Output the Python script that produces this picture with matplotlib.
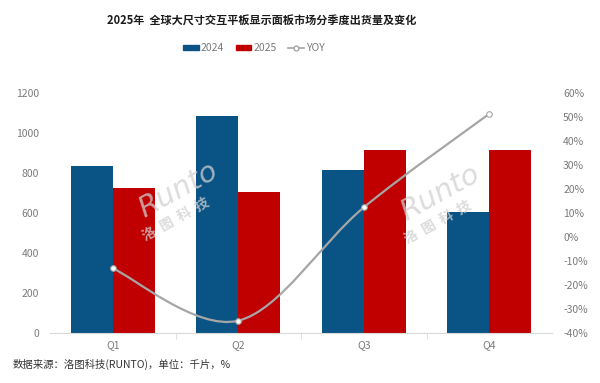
import numpy as np
import matplotlib.pyplot as plt
from matplotlib.path import Path
from matplotlib.patches import PathPatch
from matplotlib.lines import Line2D
from matplotlib.patches import Patch

plt.rcParams['font.family'] = ['Noto Sans CJK SC', 'DejaVu Sans']

quarters = ['Q1', 'Q2', 'Q3', 'Q4']
ship_2024 = [835, 1085, 813, 603]
ship_2025 = [725, 705, 912, 912]
yoy = [-13.2, -35.0, 12.2, 51.2]

title = '2025年  全球大尺寸交互平板显示面板市场分季度出货量及变化'
source = '数据来源：洛图科技(RUNTO)，单位：千片，%'

blue = '#0A5485'
red = '#C00000'
gray = '#A6A6A6'
txt = '#7A7A7A'

fig = plt.figure(figsize=(6, 3.83), dpi=100)
ax = fig.add_axes([50/600, 50.3/383, 502/600, 240/383])
ax2 = ax.twinx()

x = np.arange(len(quarters))
w = 0.335
ax.bar(x - w/2, ship_2024, w, color=blue, zorder=2)
ax.bar(x + w/2, ship_2025, w, color=red, zorder=2)

ax.set_xlim(-0.5, 3.5)
ax.set_ylim(0, 1200)
ax.set_yticks(range(0, 1201, 200))
ax.set_xticks(x)
ax.set_xticklabels(quarters)
ax.set_xticks([0.5, 1.5, 2.5], minor=True)
ax.tick_params(axis='y', length=0, pad=8, labelsize=7.5, labelcolor=txt)
ax.tick_params(axis='x', length=0, pad=5, labelsize=7.5, labelcolor=txt)
ax.tick_params(axis='x', which='minor', length=4, color='#D9D9D9', direction='out')
for s in ['top', 'left', 'right']:
    ax.spines[s].set_visible(False)
ax.spines['bottom'].set_color('#D9D9D9')

ax2.set_ylim(-40, 60)
ax2.set_yticks(range(-40, 61, 10))
ax2.set_yticklabels([f'{v}%' for v in range(-40, 61, 10)])
ax2.tick_params(axis='y', length=0, pad=8, labelsize=7.5, labelcolor=txt)
for s in ['top', 'left', 'right', 'bottom']:
    ax2.spines[s].set_visible(False)

# smoothed line like Excel (catmull-rom -> bezier)
pts = np.column_stack([x, yoy]).astype(float)
ext = np.vstack([pts[0], pts, pts[-1]])
verts = [tuple(pts[0])]
codes = [Path.MOVETO]
for i in range(len(pts) - 1):
    p0, p1, p2, p3 = ext[i], ext[i+1], ext[i+2], ext[i+3]
    c1 = p1 + (p2 - p0) / 6
    c2 = p2 - (p3 - p1) / 6
    verts += [tuple(c1), tuple(c2), tuple(p2)]
    codes += [Path.CURVE4] * 3
ax2.add_patch(PathPatch(Path(verts, codes), fill=False, edgecolor=gray, lw=1.6, zorder=3))
ax2.plot(x, yoy, ls='none', marker='o', ms=4, mfc='white', mec=gray, mew=0.8, zorder=4)

# watermark
for cx, cy in [(178, 190), (440, 193)]:
    fig.text(cx/600, 1 - cy/383, 'Runto', fontsize=21, style='italic', color='#D0D0D0',
             alpha=0.75, rotation=29, ha='center', va='center', family='DejaVu Sans', zorder=10)
    fig.text((cx - 2)/600, 1 - (cy + 30)/383, '洛  图  科  技', fontsize=10, fontweight='bold',
             color='#D0D0D0', alpha=0.75, rotation=29, ha='center', va='center', zorder=10)

fig.text(262/600, 1 - 21/383, title, fontsize=8, fontweight='bold', color='#1a1a1a',
         ha='center', va='center')
fig.text(13/600, 1 - 364/383, source, fontsize=7.5, color='#333333', ha='left', va='center')

handles = [Patch(color=blue, label='2024'), Patch(color=red, label='2025'),
           Line2D([], [], color=gray, lw=1.2, marker='o', ms=3.5, mfc='white', mec=gray, label='YOY')]
fig.legend(handles=handles, loc='center', bbox_to_anchor=(254/600, 1 - 48/383), ncol=3,
           frameon=False, fontsize=7.5, labelcolor=txt, handlelength=1.5, handleheight=0.3,
           handletextpad=0.2, columnspacing=1.1)

fig.savefig('out.png', dpi=100)
